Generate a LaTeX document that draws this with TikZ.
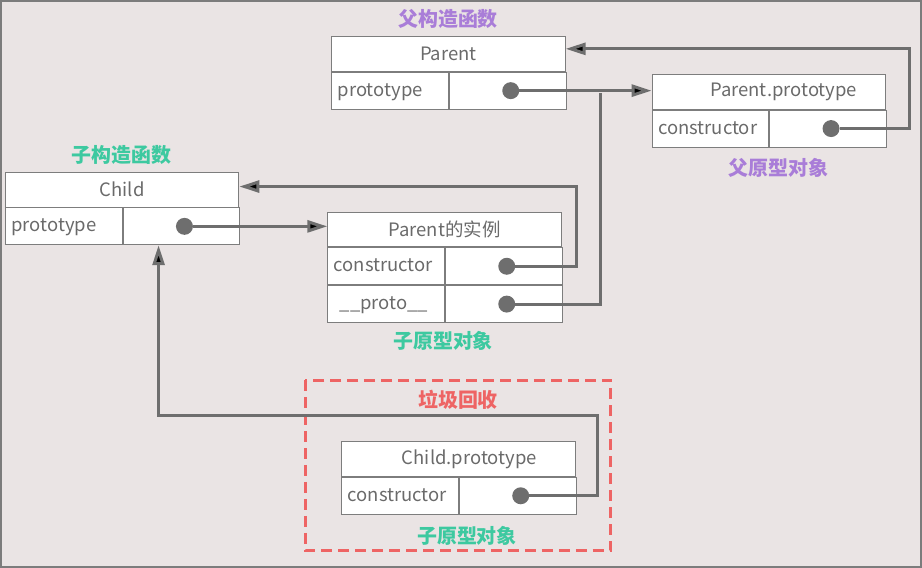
\documentclass[tikz,border=0pt]{standalone}
\usepackage{fontspec}
\setmainfont{Noto Sans CJK SC}
\usetikzlibrary{positioning,arrows.meta}
\definecolor{bg}{HTML}{EAE4E4}
\definecolor{wire}{HTML}{6E6E6E}
\definecolor{txt}{HTML}{6A6A6A}
\definecolor{purp}{HTML}{A97DD8}
\definecolor{mint}{HTML}{3DC9A0}
\definecolor{alert}{HTML}{EE6464}
\tikzset{
  title/.style={draw=wire!90, fill=white, line width=0.9pt, minimum width=234pt, minimum height=35pt,
    inner sep=0pt, anchor=north west, text=txt, font=\fontsize{18.5}{21}\selectfont},
  key/.style={title, minimum width=117pt, minimum height=37pt, text width=105pt, inner xsep=6pt, align=left,
    text height=13pt, text depth=2pt},
  val/.style={title, minimum width=117pt, minimum height=37pt},
  dot/.style={circle, fill=wire, minimum size=17pt, inner sep=0pt},
  tag/.style={font=\fontsize{20}{23}\selectfont\bfseries},
  link/.style={draw=wire, line width=3pt},
}
\begin{document}
\begin{tikzpicture}[x=1pt,y=-1pt,>={Triangle[length=20pt,width=12pt]}]
\fill[bg] (0,0) rectangle (922,567);
\draw[wire!90, line width=2pt] (0,0) rectangle (922,567);

% Parent
\node[title] (parent) at (331,35) {Parent};
\node[key] (parentkey) at (parent.south west) {prototype};
\node[val, right=0pt of parentkey] (parentval) {};
\node[dot] (parentdot) at ([xshift=3pt]parentval.center) {};

% Parent.prototype
\node[title] (proto) at (652,73) {\hspace*{30pt}Parent.prototype};
\node[key] (protokey) at (proto.south west) {constructor};
\node[val, right=0pt of protokey] (protoval) {};
\node[dot] (protodot) at ([xshift=3pt]protoval.center) {};

% Child
\node[title] (child) at (4,171) {Child};
\node[key] (childkey) at (child.south west) {prototype};
\node[val, right=0pt of childkey] (childval) {};
\node[dot] (childdot) at ([xshift=3pt]childval.center) {};

% Parent instance
\node[title] (inst) at (327,211) {Parent的实例};
\node[key] (instkey1) at (inst.south west) {constructor};
\node[val, right=0pt of instkey1] (instval1) {};
\node[dot] (instdot1) at ([xshift=3pt]instval1.center) {};
\node[key] (instkey2) at (instkey1.south west) {\hspace*{6pt}\_\_proto\_\_};
\node[val, right=0pt of instkey2] (instval2) {};
\node[dot] (instdot2) at ([xshift=3pt]instval2.center) {};

% Child.prototype
\node[title] (cproto) at (341,441) {\hspace*{22pt}Child.prototype};
\node[key] (cprotokey) at (cproto.south west) {constructor};
\node[val, right=0pt of cprotokey] (cprotoval) {};
\node[dot] (cprotodot) at ([xshift=3pt]cprotoval.center) {};

% captions
\node[tag, text=purp] (parentcap) at (448,18) {父构造函数};
\node[tag, text=purp] (protocap) at (779,167) {父原型对象};
\node[tag, text=mint] (childcap) at (121,154) {子构造函数};
\node[tag, text=mint] (instcap) at (443,341) {子原型对象};
\node[tag, text=alert] (gccap) at (458,400) {垃圾回收};
\node[tag, text=mint] (cprotocap) at (467,536) {子原型对象};

\draw[alert, line width=3pt, dash pattern=on 11pt off 6pt] (305,380) rectangle (611,551);

\coordinate (merge) at (601,92);
\coordinate (gcturn) at (598,415);
\path[link]
(parentdot) edge[->] (parentdot -| proto.west)
(protodot) edge[->, to path={-- ++(79,0) |- (\tikztotarget)}] ([yshift=5pt]parent.east)
(childdot) edge[->] (childdot -| inst.west)
(instdot1) edge[->, to path={-- ++(70,0) |- (\tikztotarget)}] ([yshift=3pt]child.east)
(instdot2) edge[to path={-| (\tikztotarget)}] (merge)
(cprotodot) edge[->, to path={-| (gcturn) -| (\tikztotarget)}] ([xshift=36pt]childval.south west);
\end{tikzpicture}
\end{document}
